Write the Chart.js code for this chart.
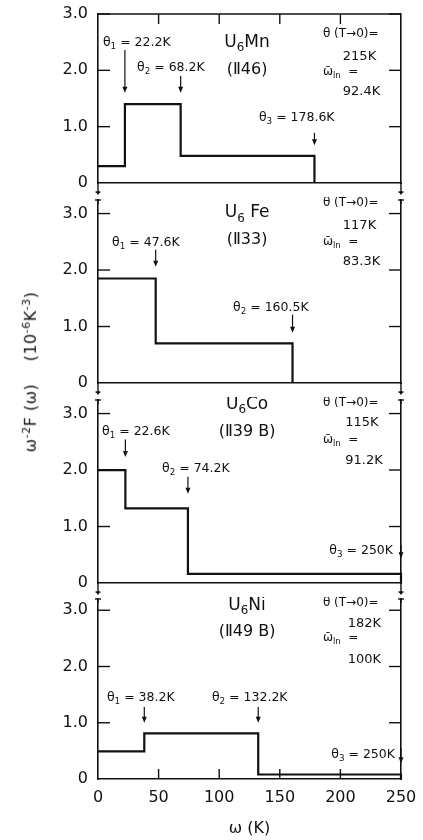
<!DOCTYPE html>
<html>
<head>
<meta charset="utf-8">
<script src="https://cdn.jsdelivr.net/npm/chart.js@4.4.1/dist/chart.umd.min.js"></script>
<style>
  html, body { margin: 0; padding: 0; background: #fff; }
  #fig { position: relative; width: 423px; height: 840px; overflow: hidden; }
  #fig canvas { position: absolute; left: 0; }
  #ytitle {
    position: absolute; left: 30px; top: 372px;
    transform: translate(-50%, -50%) rotate(-90deg);
    font-family: 'DejaVu Sans'; font-size: 16px; color: #111;
    white-space: nowrap; letter-spacing: 0.5px;
  }
  #ytitle sup { font-size: 11px; }
</style>
</head>
<body>
<div id="fig">
  <canvas id="p1" width="423" height="197" style="top:0px"></canvas>
  <canvas id="p2" width="423" height="200" style="top:197px"></canvas>
  <canvas id="p3" width="423" height="200" style="top:397px"></canvas>
  <canvas id="p4" width="423" height="243" style="top:597px"></canvas>
  <div id="ytitle">ω<sup>-2</sup>F (ω) &nbsp;&nbsp; (10<sup>-6</sup>K<sup>-3</sup>)</div>
</div>
<script>
// ω⁻²F(ω) step models for four U6X compounds, stacked panels sharing ω axis

const omegaTicks = [0, 50, 100, 150, 200, 250];
const levelTicks = [0, 1, 2, 3];

const compounds = ['U_{6}Mn', 'U_{6} Fe', 'U_{6}Co', 'U_{6}Ni'];
const samples   = ['(Ⅱ46)', '(Ⅱ33)', '(Ⅱ39 B)', '(Ⅱ49 B)'];
const thetaT0   = [215, 117, 115, 182];   // θ(T→0), K
const omegaLn   = [92.4, 83.3, 91.2, 100]; // ω̄ln, K

// step edges (K) and plateau heights (10^-6 K^-3)
const mnTheta = [22.2, 68.2, 178.6];
const mnLevel = [0.30, 1.40, 0.48];
const feTheta = [47.6, 160.5];
const feLevel = [1.85, 0.70];
const coTheta = [22.6, 74.2, 250];
const coLevel = [2.00, 1.32, 0.16];
const niTheta = [38.2, 132.2, 250];
const niLevel = [0.49, 0.81, 0.08];

const INK = '#111';
const FONT = 'DejaVu Sans';

// ─── Panel layout (annotation anchors in data units) ───────────────────────

const panels = [
  { id: 'p1', theta: mnTheta, level: mnLevel, ymax: 3.0, padTop: 14, padBottom: 14,
    topAxis: true, xLabels: false, breakBelow: true, breakAbove: false,
    head: { x: 123, yName: 2.49, ySample: 2.01 },
    side: { x: 185.6, xv: 202, y: [2.65, 2.24, 1.97, 1.62] },
    tlab: [{ x: 4.1, y: 2.49 }, { x: 32.2, y: 2.04 }, { x: 132.8, y: 1.15 }],
    arrows: [[2.36, 1.60], [1.90, 1.60], [0.89, 0.67]] },
  { id: 'p2', theta: feTheta, level: feLevel, ymax: 3.24, padTop: 3, padBottom: 14,
    topAxis: false, xLabels: false, breakBelow: true, breakAbove: true,
    head: { x: 123, yName: 3.01, ySample: 2.54 },
    side: { x: 185.6, xv: 202, y: [3.19, 2.78, 2.50, 2.15] },
    tlab: [{ x: 11.6, y: 2.48 }, { x: 111.4, y: 1.33 }],
    arrows: [[2.36, 2.06], [1.21, 0.89]] },
  { id: 'p3', theta: coTheta, level: coLevel, ymax: 3.24, padTop: 3, padBottom: 14,
    topAxis: false, xLabels: false, breakBelow: true, breakAbove: true,
    head: { x: 123, yName: 3.16, ySample: 2.68 },
    side: { x: 185.6, xv: 204, y: [3.19, 2.84, 2.54, 2.16] },
    tlab: [{ x: 3.3, y: 2.68 }, { x: 52.8, y: 2.02 }, { x: 243.4, y: 0.57, right: true }],
    arrows: [[2.54, 2.23], [1.88, 1.58], [0.67, 0.44]] },
  { id: 'p4', theta: niTheta, level: niLevel, ymax: 3.2, padTop: 2, padBottom: 0,
    topAxis: false, xLabels: true, breakBelow: false, breakAbove: true,
    head: { x: 123, yName: 3.09, ySample: 2.61 },
    side: { x: 185.6, xv: 206, y: [3.13, 2.77, 2.51, 2.12] },
    tlab: [{ x: 7.4, y: 1.44 }, { x: 94, y: 1.44 }, { x: 245, y: 0.44, right: true }],
    arrows: [[1.28, 1.00], [1.28, 1.00], [0.55, 0.28]] }
];

// ─── Helpers ───────────────────────────────────────────────────────────────

function stepPoints(theta, level) {
  const pts = [{ x: 0, y: level[0] }];
  theta.forEach((t, i) => pts.push({ x: t, y: i + 1 < level.length ? level[i + 1] : 0 }));
  return pts;
}

// text with _{sub} and ^{sup} pieces
function drawRich(ctx, str, x, y, size, align, weight) {
  const parts = [];
  str.replace(/([_^])\{([^}]*)\}|([^_^]+)/g, (m, k, inner, plain) => {
    parts.push(plain !== undefined ? { t: plain, dy: 0, s: size } :
      { t: inner, dy: k === '_' ? size * 0.32 : -size * 0.42, s: size * 0.7 });
  });
  let w = 0;
  parts.forEach(p => { ctx.font = `${weight || 'normal'} ${p.s}px ${FONT}`; p.w = ctx.measureText(p.t).width; w += p.w; });
  let cx = align === 'right' ? x - w : align === 'center' ? x - w / 2 : x;
  ctx.textAlign = 'left';
  ctx.textBaseline = 'middle';
  parts.forEach(p => {
    ctx.font = `${weight || 'normal'} ${p.s}px ${FONT}`;
    ctx.fillText(p.t, cx, y + p.dy);
    cx += p.w;
  });
}

function seg(ctx, x1, y1, x2, y2) {
  ctx.beginPath(); ctx.moveTo(x1, y1); ctx.lineTo(x2, y2); ctx.stroke();
}

// ─── Frame plugin: inward ticks, axis breaks, annotations ─────────────────

const framePlugin = {
  id: 'frame',
  afterDraw(chart, args, opts) {
    const p = opts.panel, i = opts.index;
    const { ctx, chartArea: a } = chart;
    const xs = chart.scales.x, ys = chart.scales.y;
    ctx.save();
    ctx.strokeStyle = INK; ctx.fillStyle = INK; ctx.lineWidth = 1.4;

    levelTicks.forEach(v => {
      if (v <= 0 || v > p.ymax) return;
      const py = ys.getPixelForValue(v);
      seg(ctx, a.left, py, a.left + 12, py);
      seg(ctx, a.right, py, a.right - 12, py);
    });
    omegaTicks.forEach(v => {
      if (v <= 0 || v >= 250) return;
      const px = xs.getPixelForValue(v);
      if (p.topAxis) seg(ctx, px, a.top, px, a.top + 10);
      if (p.xLabels) seg(ctx, px, a.bottom, px, a.bottom - 10);
    });
    if (p.topAxis) seg(ctx, a.left, a.top, a.right, a.top);

    [a.left, a.right].forEach(x => {
      if (p.breakBelow) {
        seg(ctx, x, a.bottom, x, a.bottom + 11);
        seg(ctx, x - 2.5, a.bottom + 9, x + 2.5, a.bottom + 9);
        ctx.beginPath(); ctx.moveTo(x - 2, a.bottom + 9); ctx.lineTo(x + 2, a.bottom + 9); ctx.lineTo(x, a.bottom + 12); ctx.fill();
      }
      if (p.breakAbove) {
        seg(ctx, x - 3, a.top, x + 3, a.top);
        seg(ctx, x, a.top, x, a.top + 4);
      }
    });

    // compound name and sample label
    const hx = xs.getPixelForValue(p.head.x);
    drawRich(ctx, compounds[i], hx, ys.getPixelForValue(p.head.yName), 17, 'center');
    drawRich(ctx, samples[i], hx, ys.getPixelForValue(p.head.ySample), 16, 'center');

    // θ(T→0) and ω̄ln block
    const sx = xs.getPixelForValue(p.side.x), vx = xs.getPixelForValue(p.side.xv);
    const sy = p.side.y.map(v => ys.getPixelForValue(v));
    drawRich(ctx, 'θ (T→0)=', sx, sy[0], 12, 'left');
    drawRich(ctx, thetaT0[i] + 'K', vx, sy[1], 13, 'left');
    drawRich(ctx, 'ω\u0304_{ln}  =', sx, sy[2], 12, 'left');
    drawRich(ctx, omegaLn[i] + 'K', vx, sy[3], 13, 'left');

    // θ labels with arrows at the step edges
    p.theta.forEach((t, k) => {
      const lab = p.tlab[k];
      drawRich(ctx, `θ_{${k + 1}} = ${t}K`, xs.getPixelForValue(lab.x), ys.getPixelForValue(lab.y), 12.5,
        lab.right ? 'right' : 'left');
      const px = Math.min(xs.getPixelForValue(t), a.right);
      const y1 = ys.getPixelForValue(p.arrows[k][0]), y2 = ys.getPixelForValue(p.arrows[k][1]);
      ctx.lineWidth = 1.2;
      seg(ctx, px, y1, px, y2 - 5);
      ctx.beginPath(); ctx.moveTo(px - 2.5, y2 - 6); ctx.lineTo(px + 2.5, y2 - 6); ctx.lineTo(px, y2); ctx.closePath(); ctx.fill();
    });
    ctx.restore();
  }
};

// ─── Charts ────────────────────────────────────────────────────────────────

function buildPanel(p, index) {
  const tickFont = { family: FONT, size: 16 };
  const scales = {
    x: {
      type: 'linear', position: 'bottom', min: 0, max: 250,
      grid: { display: false, drawTicks: false },
      border: { display: true, color: INK, width: 1.6 },
      afterBuildTicks: s => { s.ticks = omegaTicks.map(v => ({ value: v })); },
      ticks: { display: p.xLabels, padding: 9, color: INK, font: tickFont, maxRotation: 0 },
      title: { display: p.xLabels, text: 'ω (K)', color: INK, font: { family: FONT, size: 16 }, padding: { top: 4, bottom: 2 } },
      afterFit: s => { s.height = p.xLabels ? 61 : 0; s.paddingLeft = 0; s.paddingRight = 0; }
    },
    y: {
      type: 'linear', position: 'left', min: 0, max: p.ymax,
      grid: { display: false, drawTicks: false },
      border: { display: true, color: INK, width: 1.6 },
      afterBuildTicks: s => { s.ticks = levelTicks.map(v => ({ value: v })); },
      ticks: { padding: 10, color: INK, font: tickFont, callback: v => v === 0 ? '0' : v.toFixed(1) },
      afterFit: s => { s.width = 50; s.paddingTop = 0; s.paddingBottom = 0; }
    },
    y2: {
      type: 'linear', position: 'right', min: 0, max: p.ymax,
      grid: { display: false, drawTicks: false },
      border: { display: true, color: INK, width: 1.6 },
      ticks: { display: false },
      afterFit: s => { s.width = 0; s.paddingTop = 0; s.paddingBottom = 0; }
    }
  };

  return new Chart(document.getElementById(p.id), {
    type: 'line',
    data: {
      datasets: [{
        data: stepPoints(p.theta, p.level),
        stepped: 'before',
        borderColor: INK,
        borderWidth: 2.2,
        pointRadius: 0,
        fill: false,
        clip: false
      }]
    },
    options: {
      responsive: false,
      animation: false,
      devicePixelRatio: 1,
      layout: { padding: { left: 48, right: 22, top: p.padTop, bottom: p.padBottom } },
      plugins: {
        legend: { display: false },
        tooltip: { enabled: false },
        frame: { panel: p, index }
      },
      scales
    },
    plugins: [framePlugin]
  });
}

panels.forEach(buildPanel);
</script>
</body>
</html>
